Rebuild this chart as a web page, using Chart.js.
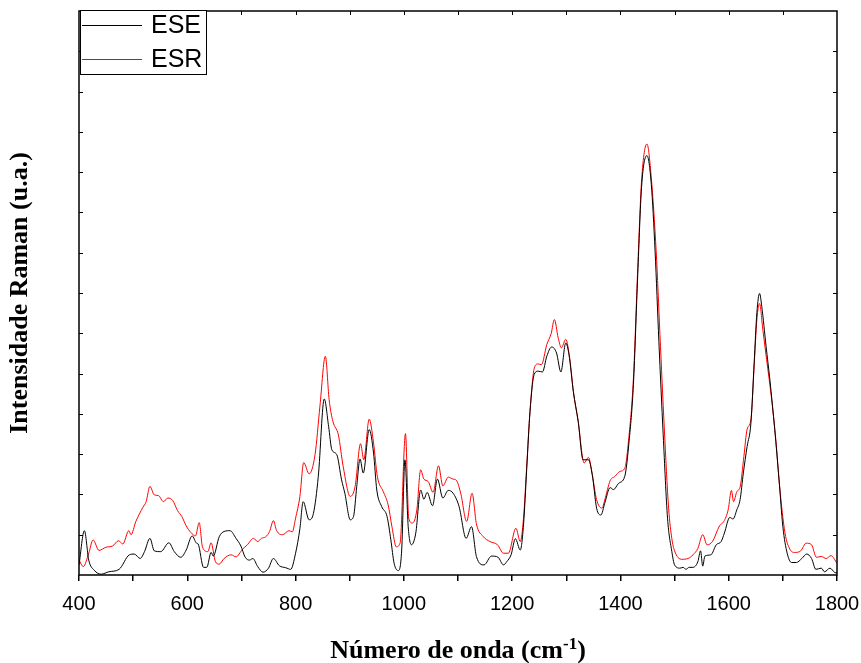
<!DOCTYPE html>
<html>
<head>
<meta charset="utf-8">
<script src="https://cdn.jsdelivr.net/npm/chart.js@4.4.0/dist/chart.umd.min.js"></script>
<style>
  html, body { margin: 0; padding: 0; background: #fff; }
  canvas { display: block; }
</style>
</head>
<body>
<canvas id="chart" width="861" height="663"></canvas>
<script>
// Raman spectra, values (arbitrary units)
const eseX = [400, 410, 418, 428, 441, 455, 474, 493, 502, 513, 521, 531, 539, 551, 566, 576, 588, 598, 609, 617, 620, 630, 636, 644, 648, 659, 668, 679, 690, 699, 707, 715, 721, 730, 740, 750, 759, 770, 782, 791, 800, 808, 814, 825, 833, 842, 853, 861, 867, 876, 885, 891, 901, 907, 913, 919, 925, 936, 944, 950, 959, 969, 976, 982, 990, 996, 1002, 1008, 1014, 1022, 1031, 1037, 1043, 1053, 1062, 1072, 1082, 1091, 1102, 1115, 1125, 1134, 1148, 1162, 1174, 1184, 1190, 1198, 1206, 1215, 1221, 1227, 1233, 1241, 1248, 1256, 1264, 1273, 1282, 1290, 1299, 1305, 1313, 1322, 1331, 1341, 1348, 1356, 1364, 1371, 1381, 1387, 1397, 1408, 1416, 1424, 1432, 1439, 1449, 1457, 1464, 1471, 1479, 1487, 1495, 1500, 1510, 1516, 1521, 1527, 1534, 1543, 1548, 1552, 1556, 1567, 1577, 1586, 1592, 1602, 1608, 1615, 1621, 1627, 1634, 1641, 1647, 1652, 1657, 1661, 1669, 1676, 1685, 1693, 1700, 1708, 1716, 1725, 1735, 1744, 1753, 1761, 1771, 1777, 1787, 1796, 1800];
const eseY = [0.25, 1.10, 0.37, 0.12, 0.02, 0.08, 0.14, 0.50, 0.52, 0.41, 0.58, 0.91, 0.60, 0.58, 0.80, 0.58, 0.44, 0.62, 0.97, 0.79, 0.77, 0.19, 0.19, 0.56, 0.47, 0.95, 1.08, 1.10, 0.91, 0.72, 0.44, 0.37, 0.41, 0.21, 0.07, 0.17, 0.41, 0.23, 0.18, 0.14, 0.54, 1.15, 1.82, 1.37, 1.53, 2.45, 4.37, 3.69, 3.11, 2.99, 2.36, 2.03, 1.37, 1.45, 2.20, 2.88, 2.53, 3.61, 3.03, 2.11, 1.70, 1.45, 0.87, 0.29, 0.11, 0.62, 2.86, 1.20, 0.75, 1.04, 2.11, 1.88, 2.05, 1.72, 2.38, 1.91, 2.10, 2.03, 1.70, 0.91, 1.20, 0.46, 0.25, 0.47, 0.44, 0.25, 0.33, 0.50, 0.90, 0.62, 1.24, 2.65, 4.06, 4.99, 5.06, 5.04, 5.43, 5.66, 5.51, 5.04, 5.76, 5.47, 4.56, 3.81, 2.86, 2.86, 2.49, 1.66, 1.49, 1.78, 2.17, 2.12, 2.28, 2.45, 3.32, 4.73, 7.46, 9.62, 10.41, 9.70, 8.04, 5.80, 3.48, 1.41, 0.58, 0.25, 0.17, 0.19, 0.14, 0.19, 0.19, 0.33, 0.60, 0.22, 0.47, 0.50, 0.75, 0.83, 1.04, 1.43, 1.39, 1.62, 1.87, 2.53, 3.19, 3.77, 5.27, 6.51, 6.99, 6.67, 5.68, 4.85, 3.61, 2.36, 1.20, 0.54, 0.31, 0.31, 0.41, 0.52, 0.41, 0.14, 0.17, 0.08, 0.17, 0.06, 0.05];

const esrX = [400, 408, 418, 426, 437, 450, 462, 473, 481, 492, 496, 505, 518, 524, 531, 539, 547, 556, 564, 573, 582, 590, 598, 607, 615, 622, 628, 638, 644, 652, 659, 668, 681, 690, 702, 711, 722, 730, 737, 745, 752, 759, 765, 776, 788, 794, 800, 808, 815, 825, 836, 845, 855, 862, 869, 879, 888, 901, 910, 920, 926, 936, 944, 951, 962, 971, 978, 986, 993, 1003, 1009, 1016, 1024, 1031, 1037, 1045, 1054, 1064, 1072, 1082, 1091, 1097, 1105, 1116, 1126, 1134, 1147, 1159, 1173, 1184, 1193, 1207, 1215, 1221, 1227, 1233, 1241, 1248, 1254, 1264, 1272, 1278, 1285, 1291, 1299, 1307, 1313, 1322, 1333, 1341, 1348, 1356, 1366, 1371, 1381, 1390, 1399, 1408, 1416, 1424, 1432, 1439, 1449, 1457, 1466, 1473, 1481, 1489, 1495, 1500, 1513, 1525, 1534, 1543, 1552, 1560, 1570, 1583, 1591, 1599, 1605, 1609, 1615, 1621, 1628, 1634, 1641, 1647, 1652, 1657, 1663, 1670, 1679, 1687, 1694, 1704, 1713, 1722, 1733, 1743, 1753, 1762, 1771, 1780, 1789, 1800];
const esrY = [0.37, 0.21, 0.54, 0.87, 0.61, 0.69, 0.72, 0.85, 0.77, 1.10, 1.00, 1.33, 1.68, 1.82, 2.20, 1.99, 1.97, 1.82, 1.91, 1.85, 1.60, 1.45, 1.22, 1.05, 0.97, 1.30, 0.70, 0.58, 0.80, 0.33, 0.27, 0.41, 0.50, 0.45, 0.64, 0.75, 0.91, 0.83, 0.91, 0.95, 1.08, 1.35, 1.10, 1.00, 1.10, 1.07, 1.41, 1.95, 2.79, 2.51, 2.99, 4.19, 5.43, 4.35, 3.81, 3.48, 2.69, 1.95, 2.20, 3.26, 2.86, 3.87, 3.28, 2.45, 2.07, 1.74, 1.20, 0.70, 0.79, 3.51, 1.41, 1.29, 1.62, 2.61, 2.38, 2.32, 2.05, 2.71, 2.21, 2.43, 2.38, 2.35, 2.03, 1.33, 2.03, 1.27, 0.95, 0.83, 0.75, 0.54, 0.54, 1.16, 0.83, 1.41, 2.73, 4.06, 5.14, 5.24, 5.22, 5.72, 5.99, 6.34, 5.89, 5.64, 5.85, 5.31, 4.56, 3.81, 2.78, 2.92, 2.49, 1.87, 1.66, 1.86, 2.34, 2.45, 2.57, 2.65, 3.48, 4.89, 7.63, 9.78, 10.70, 9.86, 8.04, 5.97, 3.65, 1.66, 0.90, 0.60, 0.39, 0.41, 0.50, 0.66, 1.00, 0.75, 0.83, 1.22, 1.33, 1.62, 2.10, 1.82, 2.07, 2.18, 2.94, 3.62, 3.86, 5.19, 6.34, 6.74, 6.09, 5.35, 4.39, 3.36, 2.20, 1.04, 0.64, 0.56, 0.60, 0.79, 0.75, 0.44, 0.46, 0.41, 0.48, 0.29];

const xMin = 400, xMax = 1800;
const yMin = 0, yMax = 14;

const toPoints = (xs, ys) => xs.map((x, i) => ({ x, y: ys[i] }));

// frame, inner ticks, legend box and axis titles
const framePlugin = {
    id: 'frame',
    afterDatasetsDraw(chart) {
        const { ctx, chartArea: a, scales: { x, y } } = chart;
        ctx.save();
        ctx.strokeStyle = '#000';
        ctx.lineWidth = 1;
        ctx.beginPath();
        for (let v = yMin + 1; v < yMax; v++) {
            const py = Math.round(y.getPixelForValue(v)) + 0.5;
            ctx.moveTo(a.left, py); ctx.lineTo(a.left + 4, py);
            ctx.moveTo(a.right, py); ctx.lineTo(a.right - 4, py);
        }
        for (let v = xMin + 100; v < xMax; v += 100) {
            const px = Math.round(x.getPixelForValue(v)) + 0.5;
            ctx.moveTo(px, a.top); ctx.lineTo(px, a.top + 4);
        }
        ctx.stroke();

        ctx.lineWidth = 1.5;
        ctx.strokeRect(a.left, a.top, a.right - a.left, a.bottom - a.top);

        // legend
        const lx = a.left + 1, ly = a.top - 1, lw = 126, lh = 64;
        ctx.fillStyle = '#fff';
        ctx.fillRect(lx, ly, lw, lh);
        ctx.lineWidth = 1;
        ctx.strokeRect(lx + 0.5, ly + 0.5, lw, lh);
        ctx.font = '25px "Liberation Sans", Arial, sans-serif';
        ctx.textBaseline = 'middle';
        chart.data.datasets.forEach((ds, i) => {
            const cy = ly + 15 + i * 34;
            ctx.strokeStyle = ds.borderColor;
            ctx.beginPath();
            ctx.moveTo(lx + 2, cy + 0.5); ctx.lineTo(lx + 62, cy + 0.5);
            ctx.stroke();
            ctx.fillStyle = '#000';
            ctx.fillText(ds.label, lx + 71, cy + 1);
        });

        // x title with superscript
        ctx.fillStyle = '#000';
        ctx.textBaseline = 'alphabetic';
        const big = 'bold 26px "Liberation Serif", "Times New Roman", serif';
        const small = 'bold 17px "Liberation Serif", "Times New Roman", serif';
        const t1 = 'Número de onda (cm', t2 = '-1', t3 = ')';
        ctx.font = big; const w1 = ctx.measureText(t1).width, w3 = ctx.measureText(t3).width;
        ctx.font = small; const w2 = ctx.measureText(t2).width;
        let tx = (a.left + a.right) / 2 - (w1 + w2 + w3) / 2;
        const base = 658;
        ctx.font = big; ctx.fillText(t1, tx, base); tx += w1;
        ctx.font = small; ctx.fillText(t2, tx, base - 9); tx += w2;
        ctx.font = big; ctx.fillText(t3, tx, base);

        // y title
        ctx.translate(20, (a.top + a.bottom) / 2);
        ctx.rotate(-Math.PI / 2);
        ctx.font = big;
        ctx.textAlign = 'center';
        ctx.textBaseline = 'middle';
        ctx.fillText('Intensidade Raman (u.a.)', 0, 0);
        ctx.restore();
    }
};

new Chart(document.getElementById('chart'), {
    type: 'line',
    data: {
        datasets: [
            {
                label: 'ESE',
                data: toPoints(eseX, eseY),
                borderColor: '#000000',
                borderWidth: 1,
                pointRadius: 0,
                cubicInterpolationMode: 'monotone',
            },
            {
                label: 'ESR',
                data: toPoints(esrX, esrY),
                borderColor: '#ff0000',
                borderWidth: 1,
                pointRadius: 0,
                cubicInterpolationMode: 'monotone',
            },
        ],
    },
    options: {
        responsive: false,
        animation: false,
        layout: { padding: { top: 11, right: 24, left: 0, bottom: 0 } },
        plugins: {
            legend: { display: false },
            tooltip: { enabled: false },
        },
        scales: {
            x: {
                type: 'linear',
                min: xMin,
                max: xMax,
                ticks: {
                    stepSize: 100,
                    autoSkip: false,
                    maxRotation: 0,
                    callback: v => (v % 200 === 0 ? v : ''),
                    color: '#000',
                    font: { family: '"Liberation Sans", Arial, sans-serif', size: 20 },
                    padding: 11,
                },
                grid: { drawOnChartArea: false, tickLength: 6, color: '#000', lineWidth: 1.5 },
                border: { display: false },
                afterFit(s) { s.height = 88; s.paddingLeft = 0; s.paddingRight = 0; },
            },
            y: {
                min: yMin,
                max: yMax,
                ticks: { display: false },
                grid: { display: false },
                border: { display: false },
                afterFit(s) { s.width = 79; },
            },
        },
    },
    plugins: [framePlugin],
});
</script>
</body>
</html>
